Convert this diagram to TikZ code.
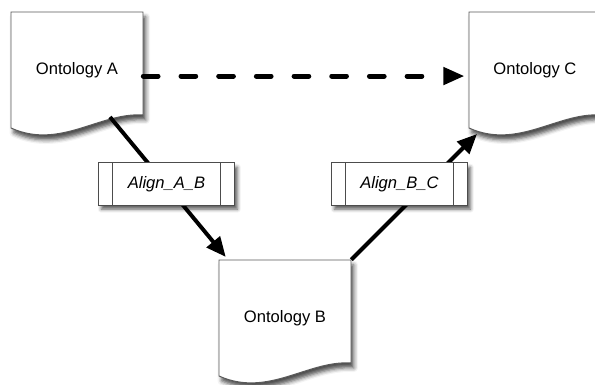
\documentclass[tikz,border=0pt]{standalone}
\usepackage{fontspec}
\setmainfont{Liberation Sans}
\usetikzlibrary{arrows.meta,shadows.blur}

\tikzset{
  sheet/.style={fill=white, draw=black!65, line width=0.7pt,
    blur shadow={shadow xshift=2pt, shadow yshift=-3.5pt,
      shadow blur radius=3pt, shadow opacity=70}},
  sheetlabel/.style={minimum width=3.3cm, minimum height=2.9cm, inner sep=0pt,
    font=\fontsize{11.8}{14}\selectfont},
  alignbox/.style={rectangle, draw=black!70, fill=white, line width=0.7pt,
    minimum width=3.4cm, minimum height=1.05cm,
    font=\fontsize{11.8}{14}\selectfont\itshape,
    blur shadow={shadow xshift=2pt, shadow yshift=-3pt,
      shadow blur radius=2.5pt, shadow opacity=65},
    path picture={
      \draw[black!70, line width=0.7pt]
        ([xshift=10pt]path picture bounding box.north west) --
        ([xshift=10pt]path picture bounding box.south west)
        ([xshift=-10pt]path picture bounding box.north east) --
        ([xshift=-10pt]path picture bounding box.south east);}},
  flow/.style={line width=2.8pt, -{Triangle[length=14pt,width=12pt]}},
  mapflow/.style={line width=3.5pt, line cap=round,
    dash pattern=on 10.5pt off 16.3pt, shorten >=3pt,
    -{Triangle[length=15pt,width=12pt]}}
}

% ontology sheet: name, top left corner, text
\newcommand{\ontsheet}[3]{%
  \begin{scope}[shift={#2}]
    \path[sheet] (0,0) -- (132,0) -- (132,103)
      .. controls (89,100) and (49,138) .. (0,116) -- cycle;
    \node[sheetlabel] (#1) at (66,58) {#3};
    \coordinate (#1-wl) at (8,122);
    \coordinate (#1-wr) at (99,105);
  \end{scope}}

\begin{document}
\begin{tikzpicture}[x=0.025cm, y=-0.025cm]
  \useasboundingbox (0,0) rectangle (595,385);

  \ontsheet{docA}{(11,12)}{Ontology A}
  \ontsheet{docB}{(219,260)}{Ontology B}
  \ontsheet{docC}{(469,12)}{Ontology C}

  % connectors
  \path ([yshift=-4.3pt]docA.east) edge[mapflow] ([yshift=-4.3pt]docC.west);
  \path (docA-wr) edge[flow] ([xshift=5pt,yshift=2pt]docB.north west);
  \path (docB.north east) edge[flow] (docC-wl);

  \begin{scope}[every node/.style={alignbox}]
    \node (alignAB) at (166.5,184) {Align\_A\_B};
    \node (alignBC) at (399.5,184) {Align\_B\_C};
  \end{scope}

\end{tikzpicture}
\end{document}
